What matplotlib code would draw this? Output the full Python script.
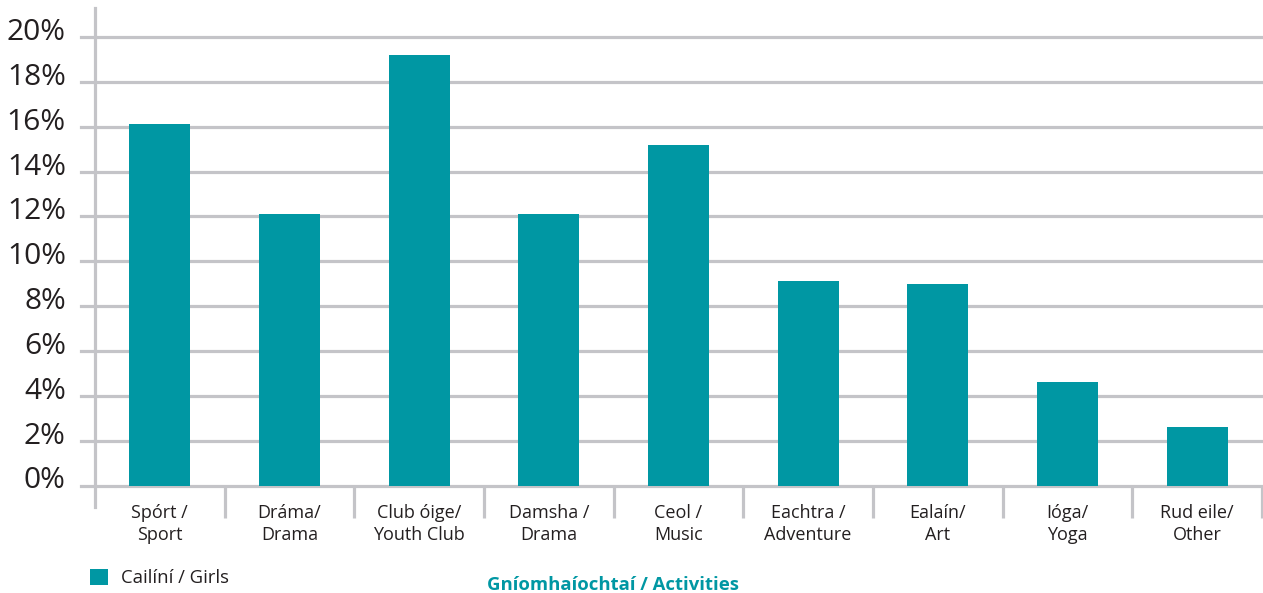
import matplotlib
matplotlib.use("Agg")
import matplotlib.pyplot as plt
from matplotlib.lines import Line2D
from matplotlib.patches import Patch
from matplotlib.transforms import ScaledTranslation
import numpy as np

categories = [
    "Spórt /\nSport",
    "Dráma/\nDrama",
    "Club óige/\nYouth Club",
    "Damsha /\nDrama",
    "Ceol /\nMusic",
    "Eachtra /\nAdventure",
    "Ealaín/\nArt",
    "Ióga/\nYoga",
    "Rud eile/\nOther",
]
girls = [16.1, 12.1, 19.2, 12.1, 15.2, 9.1, 9.0, 4.6, 2.6]
y_ticks = [0, 2, 4, 6, 8, 10, 12, 14, 16, 18, 20]
y_tick_labels = [f"{v}%" for v in y_ticks]

TEAL = "#0097a3"
GRID = "#c4c4c8"
TEXT = "#231f20"

plt.rcParams["font.family"] = ["Open Sans", "DejaVu Sans"]

W, H = 1263, 593
fig = plt.figure(figsize=(W / 100, H / 100), dpi=100)

# axes box in pixel terms: left axis at x=95, zero line at y=485.5, top at y=8
ax_left, ax_right = 95, 1262
ax_top, ax_zero = 8, 485.5
ax = fig.add_axes([ax_left / W, 1 - ax_zero / H,
                   (ax_right - ax_left) / W, (ax_zero - ax_top) / H])

px_per_unit = (ax_zero - 37) / 20.0
ax.set_ylim(0, (ax_zero - ax_top) / px_per_unit)
x = np.arange(len(categories))
ax.set_xlim(-0.5, len(categories) - 0.5)

# gridlines, reaching a little to the left of the axis
for v in y_ticks:
    ax.axhline(v, xmin=-14 / (ax_right - ax_left), xmax=1, color=GRID,
               lw=2.3, clip_on=False, zorder=1)

ax.bar(x, girls, width=0.47, color=TEAL, zorder=3)

for side in ["top", "right", "bottom", "left"]:
    ax.spines[side].set_visible(False)

# left axis line running from the top down past zero
ax.add_line(Line2D([0, 0], [1, -21.5 / (ax_zero - ax_top)],
                   transform=ax.transAxes, color=GRID, lw=2.3,
                   clip_on=False, zorder=2))

ax.set_yticks(y_ticks)
ax.set_yticklabels(y_tick_labels, fontsize=21.5, color=TEXT)
ax.tick_params(axis="y", length=0, pad=21)
# percent labels sit slightly above their gridlines
lift = ScaledTranslation(0, 0.08, fig.dpi_scale_trans)
for lbl in ax.get_yticklabels():
    lbl.set_transform(lbl.get_transform() + lift)

# category separators as long minor ticks
ax.set_xticks(x)
ax.set_xticklabels(categories, fontsize=13, color=TEXT, linespacing=1.35)
ax.set_xticks(np.arange(0.5, len(categories), 1.0), minor=True)
ax.tick_params(axis="x", which="major", length=0, pad=13)
ax.tick_params(axis="x", which="minor", length=23, width=2.3, color=GRID,
               direction="out")

fig.text(613 / W, 1 - 585 / H, "Gníomhaíochtaí / Activities", color=TEAL,
         fontsize=13.3, fontweight="bold", ha="center", va="center")

fig.legend(handles=[Patch(facecolor=TEAL, label="Cailíní / Girls")],
           loc="center left", bbox_to_anchor=(73 / W, 1 - 578 / H),
           frameon=False, fontsize=13.3, handlelength=1.0, handleheight=1.0,
           handletextpad=0.7, labelcolor=TEXT)

fig.savefig("out.png", dpi=100)
